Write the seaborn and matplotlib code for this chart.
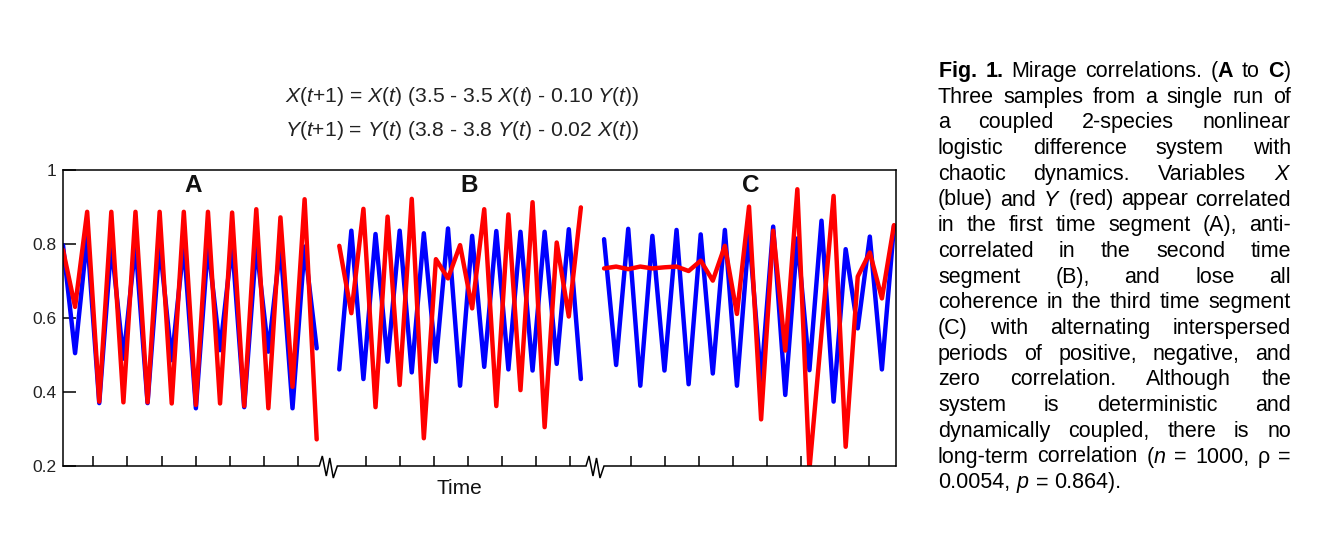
import numpy as np
import pandas as pd
import seaborn as sns
import matplotlib.pyplot as plt

# sampled values of X (blue) and Y (red) in the three time segments
x_a = [0.797, 0.505, 0.82, 0.37, 0.80, 0.49, 0.80, 0.37, 0.80, 0.486, 0.80,
       0.356, 0.797, 0.513, 0.80, 0.359, 0.797, 0.509, 0.797, 0.356, 0.793, 0.518]
y_a = [0.784, 0.63, 0.887, 0.374, 0.887, 0.372, 0.887, 0.372, 0.887, 0.369, 0.887,
       0.365, 0.887, 0.369, 0.885, 0.362, 0.894, 0.356, 0.872, 0.414, 0.921, 0.272]
x_b = [0.461, 0.836, 0.435, 0.827, 0.482, 0.836, 0.453, 0.829, 0.482, 0.842, 0.417,
       0.822, 0.468, 0.835, 0.461, 0.833, 0.458, 0.833, 0.476, 0.840, 0.435]
y_b = [0.795, 0.613, 0.895, 0.359, 0.874, 0.419, 0.922, 0.275, 0.759, 0.707, 0.797,
       0.626, 0.894, 0.362, 0.880, 0.405, 0.913, 0.305, 0.804, 0.604, 0.899]
x_c = [0.813, 0.473, 0.841, 0.417, 0.822, 0.458, 0.838, 0.421, 0.826, 0.450, 0.838,
       0.417, 0.829, 0.432, 0.847, 0.392, 0.815, 0.459, 0.863, 0.374, 0.786, 0.572,
       0.82, 0.461, 0.849]
y_c = [0.734, 0.739, 0.732, 0.739, 0.734, 0.737, 0.739, 0.727, 0.755, 0.701, 0.795,
       0.611, 0.901, 0.326, 0.836, 0.512, 0.948, 0.19, 0.56, 0.93, 0.252, 0.712,
       0.777, 0.653, 0.851]

segments = ["A", "B", "C"]
y_ticks = [0.2, 0.4, 0.6, 0.8, 1.0]
y_tick_labels = ["0.2", "0.4", "0.6", "0.8", "1"]

equations = [r"$X$($t$+1) = $X$($t$) (3.5 - 3.5 $X$($t$) - 0.10 $Y$($t$))",
             r"$Y$($t$+1) = $Y$($t$) (3.8 - 3.8 $Y$($t$) - 0.02 $X$($t$))"]

caption = [
    r"$\mathbf{Fig.}$ $\mathbf{1.}$ Mirage correlations. ($\mathbf{A}$ to $\mathbf{C}$)",
    "Three samples from a single run of",
    "a coupled 2-species nonlinear",
    "logistic difference system with",
    r"chaotic dynamics. Variables $X$",
    r"(blue) and $Y$ (red) appear correlated",
    "in the first time segment (A), anti-",
    "correlated in the second time",
    "segment (B), and lose all",
    "coherence in the third time segment",
    "(C) with alternating interspersed",
    "periods of positive, negative, and",
    "zero correlation. Although the",
    "system is deterministic and",
    "dynamically coupled, there is no",
    r"long-term correlation ($n$ = 1000, ρ =",
    r"0.0054, $p$ = 0.864).",
]

W, H = 1339, 542
STEP = 12.08                      # pixels per time step
seg_start = {"A": 0.0, "B": 22.87, "C": 44.79}
X_MAX = (896 - 63) / STEP


def build_frame():
    """Long-form table: one row per time step, species and segment."""
    parts = []
    for seg, xs, ys in zip(segments, [x_a, x_b, x_c], [y_a, y_b, y_c]):
        t = seg_start[seg] + np.arange(len(xs))
        parts.append(pd.DataFrame({"t": t, "value": xs, "species": "X", "segment": seg}))
        parts.append(pd.DataFrame({"t": t, "value": ys, "species": "Y", "segment": seg}))
    return pd.concat(parts, ignore_index=True)


def broken_baseline(ax, breaks):
    """Bottom axis line with zig-zag break marks."""
    zz = [(0, 0), (3, 10), (7, -10), (10.5, 8), (14, -12), (18, 0)]
    xs, ys = [0.0], [0.0]
    for b in breaks:
        for dx, dy in zz:
            xs.append(b + dx / STEP)
            ys.append(dy / 296)
    xs.append(X_MAX)
    ys.append(0.0)
    ax.plot(xs, ys, color="black", lw=1.1, transform=ax.get_xaxis_transform(),
            clip_on=False, zorder=5, solid_joinstyle="miter")


def justified(fig, lines, left, right, top, dy, size):
    """Draw a fully justified paragraph, last line left aligned."""
    r = fig.canvas.get_renderer()
    for i, line in enumerate(lines):
        y = 1 - (top + i * dy) / H
        words = line.split(" ")
        texts = [fig.text(0, y, w, fontsize=size, va="baseline", color="black")
                 for w in words]
        widths = [t.get_window_extent(r).width for t in texts]
        if i == len(lines) - 1 or len(words) == 1:
            gap = 0.278 * size * 100 / 72
        else:
            gap = (right - left - sum(widths)) / (len(words) - 1)
        x = left
        for t, w in zip(texts, widths):
            t.set_x(x / W)
            x += w + gap


sns.set_style("white")
plt.rcParams["font.family"] = ["Liberation Sans", "DejaVu Sans"]
plt.rcParams["mathtext.fontset"] = "custom"
plt.rcParams["mathtext.rm"] = "Liberation Sans"
plt.rcParams["mathtext.it"] = "Liberation Sans:italic"
plt.rcParams["mathtext.bf"] = "Liberation Sans:bold"

df = build_frame()

fig = plt.figure(figsize=(W / 100, H / 100), dpi=100)
ax = fig.add_axes([63 / W, 1 - 466 / H, (896 - 63) / W, (466 - 170) / H])

sns.lineplot(data=df[df.species == "X"], x="t", y="value", units="segment",
             estimator=None, color="#0000ff", lw=3.2, ax=ax)
sns.lineplot(data=df[df.species == "Y"], x="t", y="value", units="segment",
             estimator=None, color="#ff0000", lw=3.2, ax=ax)

ax.set_xlim(0, X_MAX)
ax.set_ylim(0.2, 1.0)
ax.set_xlabel("")
ax.set_ylabel("")

for side in ["left", "top", "right"]:
    ax.spines[side].set_color("black")
    ax.spines[side].set_linewidth(1.1)
ax.spines["bottom"].set_visible(False)
broken_baseline(ax, [(319.3 - 63) / STEP, (586 - 63) / STEP])

# ticks along the time axis, per segment
tick_sp = 34.1 / STEP
x_ticks = list(2.51 + tick_sp * np.arange(7)) + list(25.06 + tick_sp * np.arange(7)) \
    + list(47.0 + tick_sp * np.arange(8))
ax.set_xticks(x_ticks)
ax.set_xticklabels([])
ax.tick_params(axis="x", direction="in", length=7, width=1.1, color="black", bottom=True)
ax.set_yticks(y_ticks)
ax.set_yticklabels(y_tick_labels)
ax.tick_params(axis="y", direction="in", length=9, width=1.1, color="black", left=True,
               labelsize=12.5, labelcolor="#222222", pad=5)

for seg, xp in zip(segments, [10.76, 33.6, 56.95]):
    ax.text(xp, 0.957, seg, ha="center", va="center", fontsize=17.5,
            fontweight="bold", color="#111111")

fig.text(459 / W, 1 - 489 / H, "Time", ha="center", va="center", fontsize=15,
         color="#111111")
for eq, yp in zip(equations, [97, 131]):
    fig.text(462 / W, 1 - yp / H, eq, ha="center", va="center", fontsize=15.2,
             color="#222222")

justified(fig, caption, 938, 1291, 77, 25.7, 15.5)

fig.savefig("out.png", dpi=100)
